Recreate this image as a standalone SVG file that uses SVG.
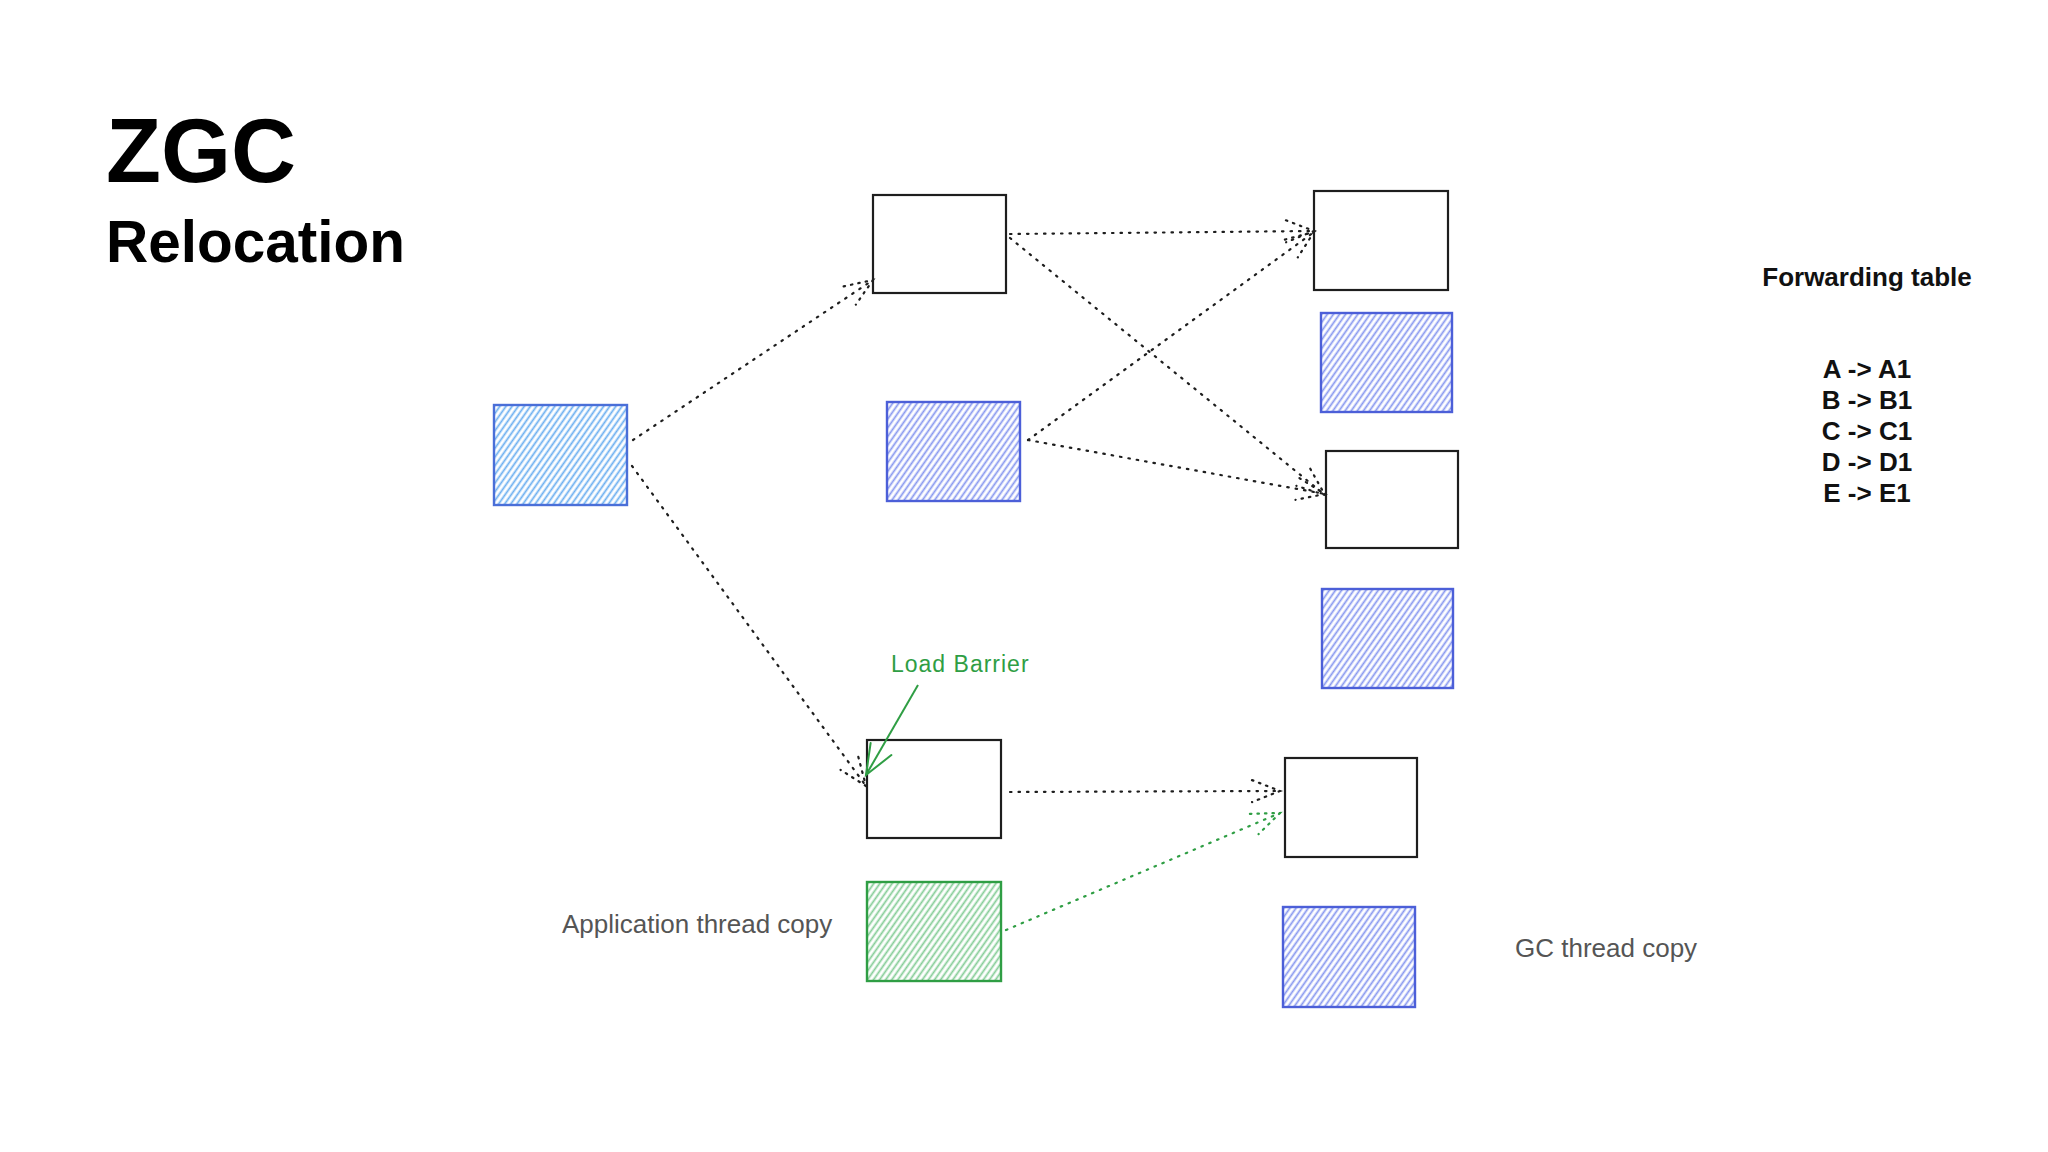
<svg xmlns="http://www.w3.org/2000/svg" width="2048" height="1152" viewBox="0 0 2048 1152">
  <defs>
    <pattern id="hLight" width="5" height="5" patternUnits="userSpaceOnUse" patternTransform="rotate(35)">
      <line x1="2.5" y1="0" x2="2.5" y2="5" stroke="#6aaef0" stroke-width="1.8"/>
    </pattern>
    <pattern id="hBlue" width="5" height="5" patternUnits="userSpaceOnUse" patternTransform="rotate(35)">
      <line x1="2.5" y1="0" x2="2.5" y2="5" stroke="#8797ef" stroke-width="1.8"/>
    </pattern>
    <pattern id="hGreen" width="5" height="5" patternUnits="userSpaceOnUse" patternTransform="rotate(35)">
      <line x1="2.5" y1="0" x2="2.5" y2="5" stroke="#84cc96" stroke-width="1.8"/>
    </pattern>
    <marker id="arrDark" markerUnits="userSpaceOnUse" markerWidth="40" markerHeight="40" refX="0" refY="0" viewBox="-35 -20 40 40" orient="auto" overflow="visible">
      <path d="M -28 -11 L 0 0 L -28 11" fill="none" stroke="#1e1e1e" stroke-width="2.2" stroke-dasharray="1.5 6" stroke-linecap="round"/>
    </marker>
    <marker id="arrGreenDot" markerUnits="userSpaceOnUse" markerWidth="40" markerHeight="40" refX="0" refY="0" viewBox="-35 -20 40 40" orient="auto" overflow="visible">
      <path d="M -28 -11 L 0 0 L -28 11" fill="none" stroke="#2f9e44" stroke-width="2.2" stroke-dasharray="1.5 6" stroke-linecap="round"/>
    </marker>
    <marker id="arrGreen" markerUnits="userSpaceOnUse" markerWidth="40" markerHeight="40" refX="0" refY="0" viewBox="-35 -20 40 40" orient="auto" overflow="visible">
      <path d="M -30 -12 L 0 0 L -30 12" fill="none" stroke="#2f9e44" stroke-width="2" stroke-linecap="round"/>
    </marker>
  </defs>
  <style>
    .title { font-family: "Liberation Sans", Arial, sans-serif; font-weight: bold; fill: #000; }
    .tbl { font-family: "Liberation Sans", Arial, sans-serif; font-weight: bold; font-size: 26px; fill: #111; text-anchor: middle; }
    .cap { font-family: "Liberation Sans", Arial, sans-serif; font-size: 26px; fill: #555; }
    .obj { fill: #fff; stroke: #1e1e1e; stroke-width: 2.2; }
    .light { fill: url(#hLight); stroke: #4a6fd8; stroke-width: 2.4; }
    .blue { fill: url(#hBlue); stroke: #4c5fd8; stroke-width: 2.4; }
    .green { fill: url(#hGreen); stroke: #2f9e44; stroke-width: 2.4; }
    .dot { fill: none; stroke: #1e1e1e; stroke-width: 2.2; stroke-dasharray: 1.5 7; stroke-linecap: round; }
    .dotg { fill: none; stroke: #2f9e44; stroke-width: 2.2; stroke-dasharray: 1.5 7; stroke-linecap: round; }
  </style>
  <rect width="2048" height="1152" fill="#fff"/>

  <g id="title">
    <text class="title" x="106" y="182" font-size="90">ZGC</text>
    <text class="title" x="106" y="262" font-size="58.5">Relocation</text>
  </g>

  <g id="forwarding-table">
    <text class="tbl" x="1867" y="286" font-size="25.5">Forwarding table</text>
    <text class="tbl" x="1867" y="378">A -&gt; A1</text>
    <text class="tbl" x="1867" y="409">B -&gt; B1</text>
    <text class="tbl" x="1867" y="440">C -&gt; C1</text>
    <text class="tbl" x="1867" y="471">D -&gt; D1</text>
    <text class="tbl" x="1867" y="502">E -&gt; E1</text>
  </g>

  <g id="root-object"><rect class="light" x="494" y="405" width="133" height="100"/></g>
  <g id="obj-a"><rect class="obj" x="873" y="195" width="133" height="98"/></g>
  <g id="obj-m"><rect class="blue" x="887" y="402" width="133" height="99"/></g>
  <g id="obj-b"><rect class="obj" x="867" y="740" width="134" height="98"/></g>
  <g id="obj-green"><rect class="green" x="867" y="882" width="134" height="99"/></g>

  <g id="obj-r1"><rect class="obj" x="1314" y="191" width="134" height="99"/></g>
  <g id="obj-r1b"><rect class="blue" x="1321" y="313" width="131" height="99"/></g>
  <g id="obj-r2"><rect class="obj" x="1326" y="451" width="132" height="97"/></g>
  <g id="obj-r2b"><rect class="blue" x="1322" y="589" width="131" height="99"/></g>
  <g id="obj-r3"><rect class="obj" x="1285" y="758" width="132" height="99"/></g>
  <g id="obj-r3b"><rect class="blue" x="1283" y="907" width="132" height="100"/></g>

  <g id="labels">
    <text class="cap" x="562" y="933">Application thread copy</text>
    <text class="cap" x="1515" y="957">GC thread copy</text>
    <text x="891" y="672" font-family="Liberation Sans, Arial, sans-serif" font-size="23" letter-spacing="1" fill="#2f9e44">Load Barrier</text>
  </g>

  <g id="connectors">
    <path class="dot" d="M 633 440 L 873 280" marker-end="url(#arrDark)"/>
    <path class="dot" d="M 632 466 L 866 786" marker-end="url(#arrDark)"/>
    <path class="dot" d="M 1010 234 L 1314 231" marker-end="url(#arrDark)"/>
    <path class="dot" d="M 1010 238 L 1325 495" marker-end="url(#arrDark)"/>
    <path class="dot" d="M 1028 440 L 1314 232" marker-end="url(#arrDark)"/>
    <path class="dot" d="M 1028 440 L 1325 494" marker-end="url(#arrDark)"/>
    <path class="dot" d="M 1010 792 L 1280 791" marker-end="url(#arrDark)"/>
    <path class="dotg" d="M 1006 930 L 1280 813" marker-end="url(#arrGreenDot)"/>
    <path fill="none" stroke="#2f9e44" stroke-width="2" d="M 918 685 L 866 775" marker-end="url(#arrGreen)"/>
  </g>
</svg>
